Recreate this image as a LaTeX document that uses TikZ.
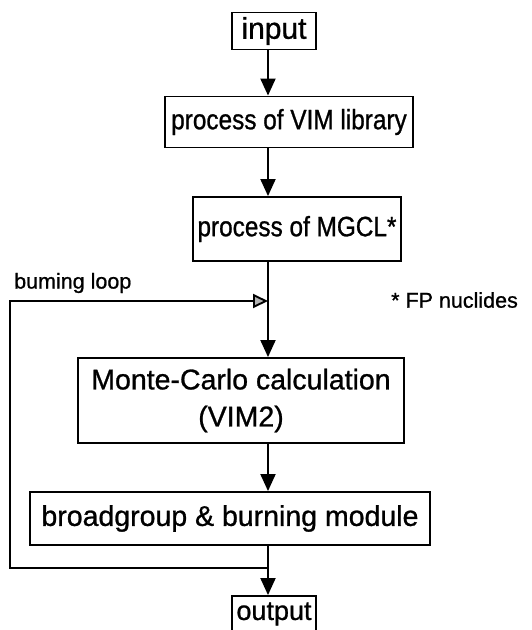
\documentclass[tikz,border=0pt]{standalone}
\usepackage{fontspec}
\setmainfont{Liberation Sans}[FakeBold=0.9]
\newfontfamily\tightfont{Liberation Sans}[FakeStretch=0.87,FakeBold=0.9]
\usetikzlibrary{arrows.meta,positioning,calc}

\begin{document}
\begin{tikzpicture}[x=1pt,y=-1pt,
  box/.style={draw,line width=1.9pt,inner sep=0pt,align=center,font=\fontsize{#1}{37}\selectfont},
  box/.default=28,
  tight/.style={font=\tightfont\fontsize{28}{37}\selectfont},
  arr/.style={line width=1.9pt,-{Triangle[length=17pt,width=15pt]}},
  lin/.style={line width=1.9pt},
  loopArr/.style={line width=1.9pt,-{Triangle[length=15pt,width=14pt,fill=gray!60]}},
  note/.style={font=\fontsize{21.5}{24}\selectfont,inner sep=0pt,anchor=west}]

\useasboundingbox (0,0) rectangle (532,630);
\def\ax{268}
\coordinate (axis) at (\ax,0);

%% the boxes
\node[box=30,minimum width=84pt,minimum height=37pt] (input) at (274,31) {input};
\node[box,tight,minimum width=248pt,minimum height=51pt] (vim) at (289,122) {process of VIM library};
\node[box,tight,minimum width=208pt,minimum height=64pt] (mgcl) at (297,229) {process of MGCL*};
\node[box=28.5,minimum width=326pt,minimum height=85pt] (monte) at (241,400.5) {Monte-Carlo calculation\\(VIM2)};
\node[box=28.5,minimum width=400pt,minimum height=53pt] (broad) at (230,518.5) {broadgroup \& burning module};
\node[box=27,minimum width=84pt,minimum height=36pt] (output) at (274,614) {output};

%% labels
\node[note] (looplabel) at (14,283) {buming loop};
\node[note] (fplabel) at (391,300) {* FP nuclides};

%% the flow
\draw[arr] (input.south -| axis) -- (vim.north -| axis);
\draw[arr] (vim.south -| axis) -- (mgcl.north -| axis);
\draw[arr] (mgcl.south -| axis) -- (monte.north -| axis);
\draw[arr] (monte.south -| axis) -- (broad.north -| axis);

%% burning loop
\coordinate (split) at (\ax,568);
\coordinate (lbot) at (10,568);
\coordinate (ltop) at (10,301);
\coordinate (ljoin) at (\ax,301);
\draw[lin] (broad.south -| axis) -- (split);
\draw[arr] (split) -- (output.north -| axis);
\draw[loopArr] (split) -- (lbot) -- (ltop) -- (ljoin);
\end{tikzpicture}
\end{document}
